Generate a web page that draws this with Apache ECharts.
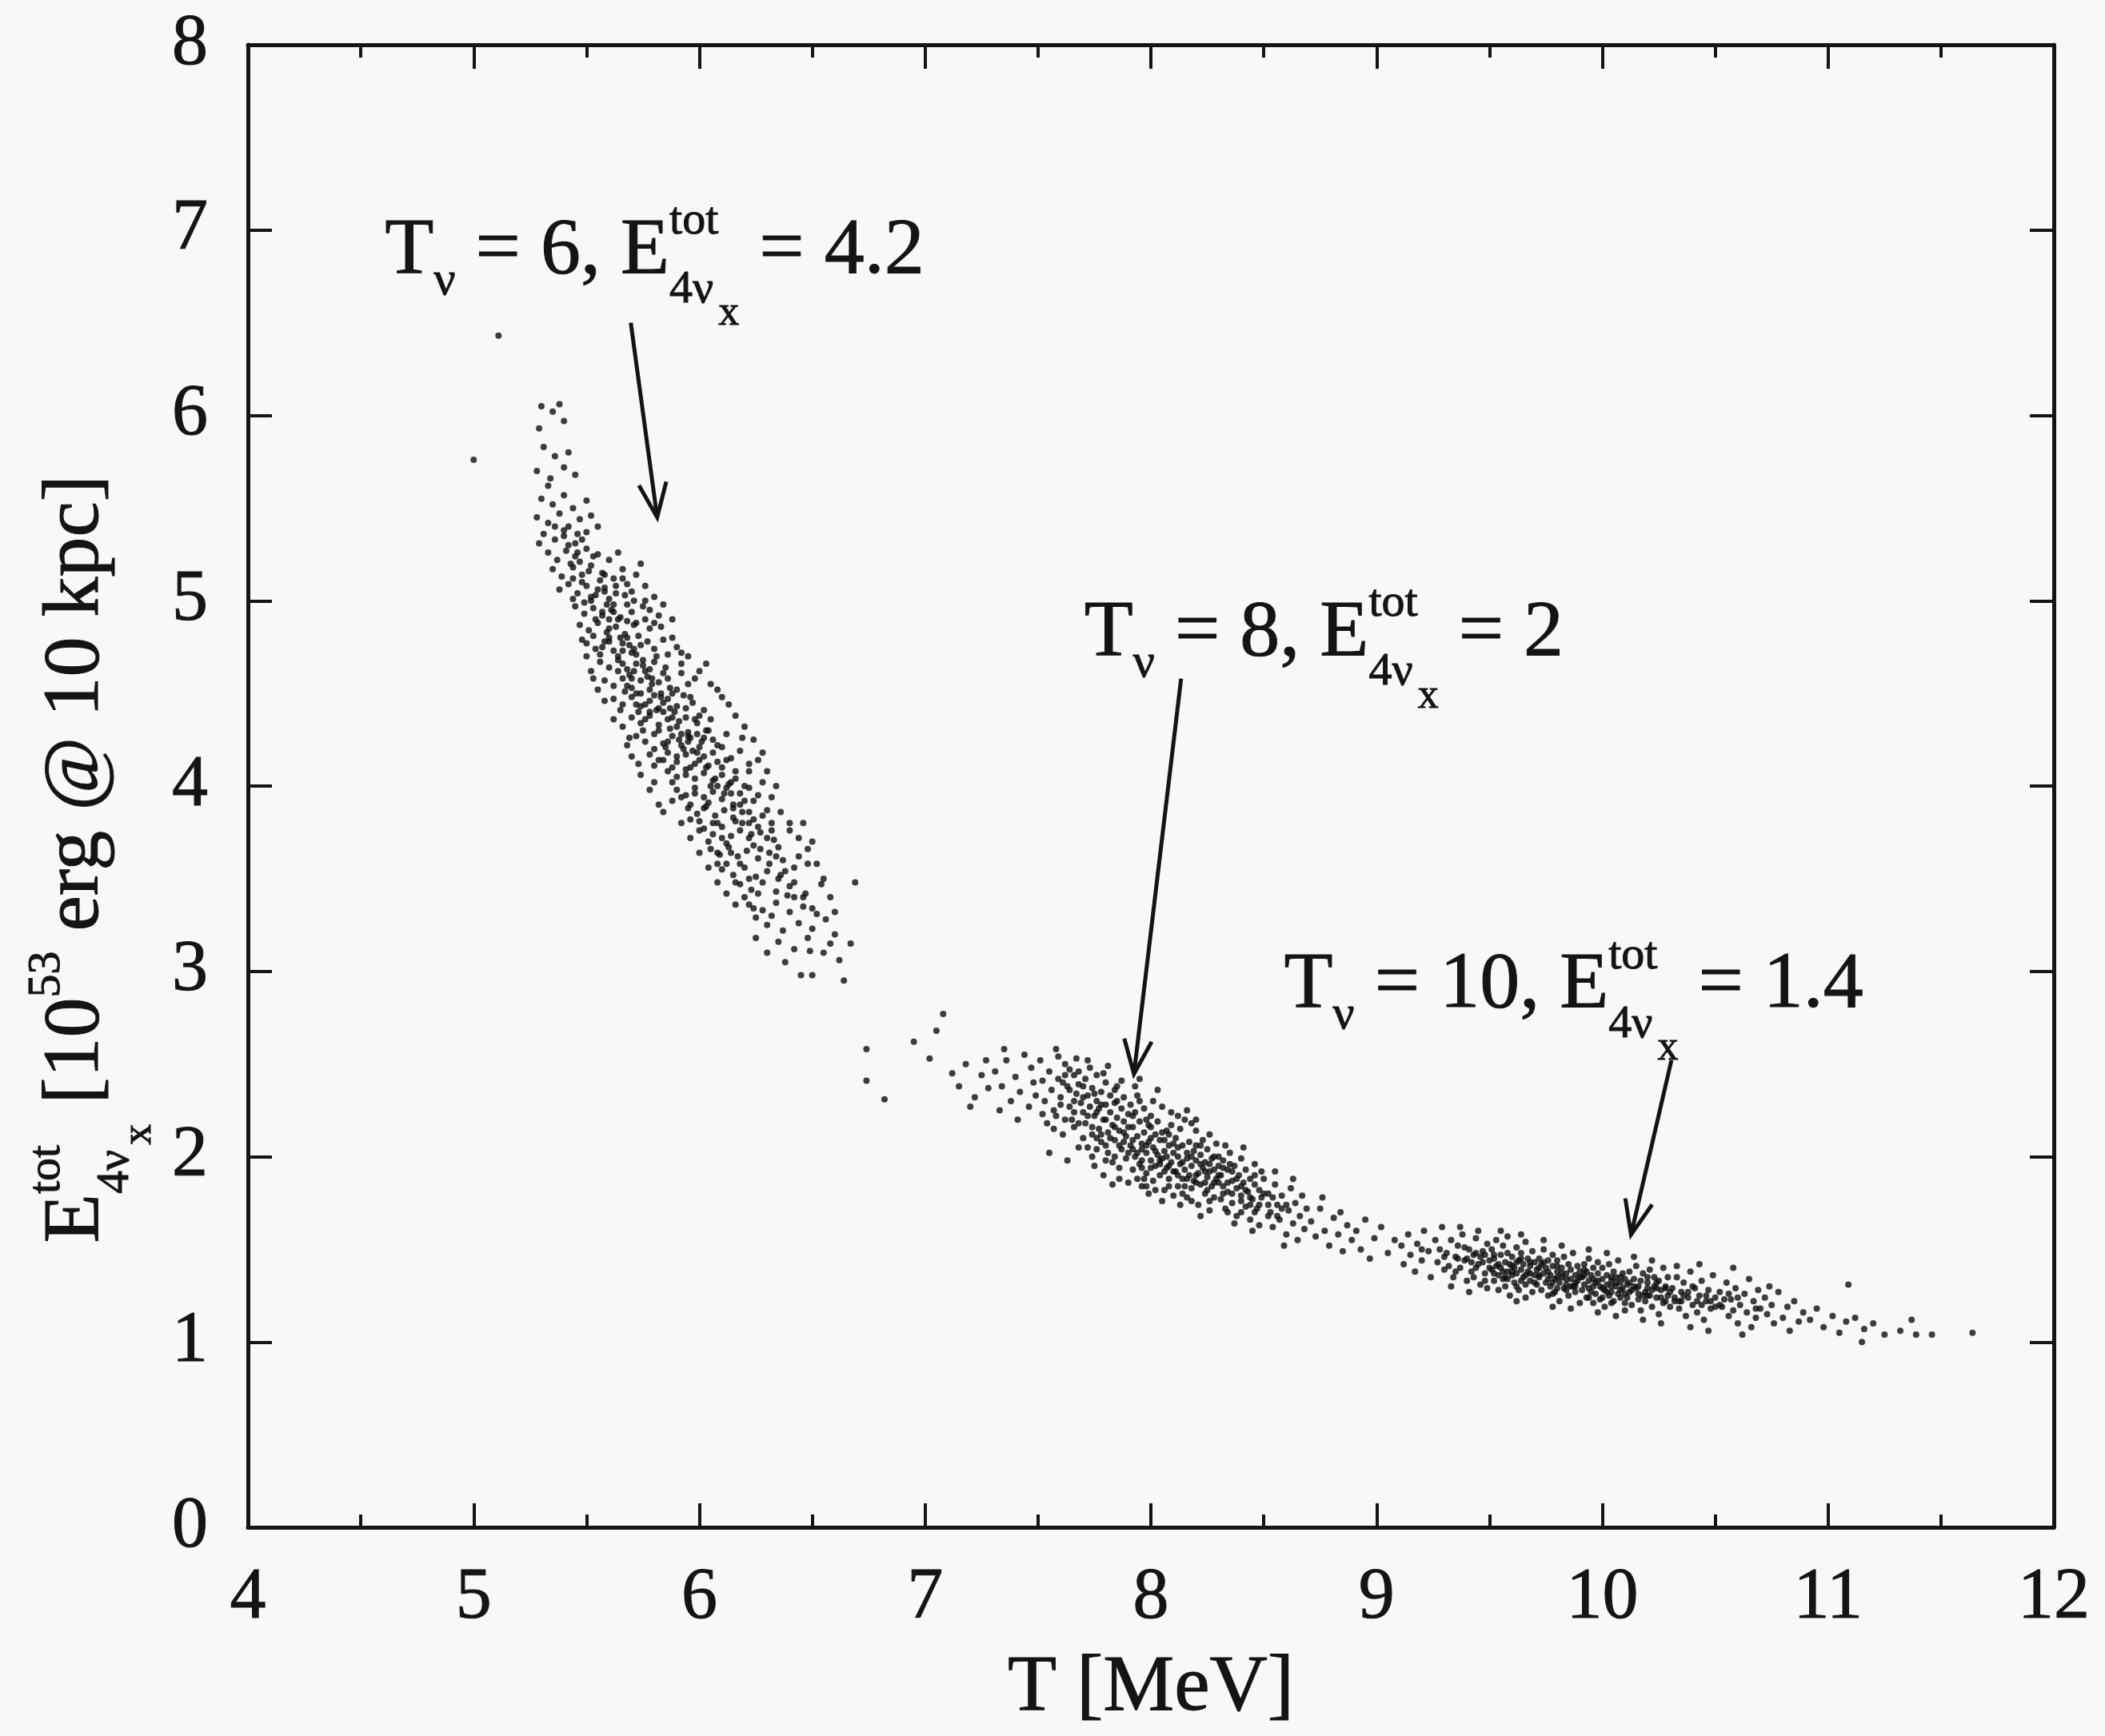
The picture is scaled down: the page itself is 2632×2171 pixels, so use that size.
<!DOCTYPE html>
<html>
<head>
<meta charset="utf-8">
<script src="https://cdn.jsdelivr.net/npm/echarts@6/dist/echarts.min.js"></script>
<style>
  html, body { margin: 0; padding: 0; background: #f8f8f6; }
  #main { width: 2632px; height: 2171px; }
</style>
</head>
<body>
<div id="main"></div>
<script>
// ---- data: [T (MeV), E_tot (10^53 erg)] ----
const cloudT6 = [
  [5.11,6.43],[5.00,5.76],
  [5.30,6.05],[5.35,6.02],[5.38,6.06],[5.29,5.93],[5.40,5.97],
  [5.31,5.83],[5.36,5.78],[5.42,5.80],[5.28,5.70],[5.34,5.66],[5.40,5.72],[5.45,5.68],[5.33,5.62],
  [5.30,5.55],[5.35,5.52],[5.40,5.57],[5.44,5.50],[5.50,5.54],[5.28,5.45],[5.33,5.42],[5.38,5.47],[5.42,5.40],[5.47,5.44],
  [5.52,5.46],[5.31,5.36],[5.36,5.33],[5.40,5.35],[5.45,5.31],[5.50,5.37],[5.55,5.40],[5.29,5.31],[5.42,5.30],[5.48,5.33],
  [5.33,5.26],[5.37,5.22],[5.41,5.27],[5.45,5.24],[5.50,5.28],[5.55,5.25],[5.60,5.22],[5.35,5.17],[5.39,5.13],[5.44,5.18],
  [5.48,5.14],[5.52,5.19],[5.57,5.15],[5.62,5.12],[5.66,5.17],[5.38,5.06],[5.42,5.09],[5.46,5.04],[5.50,5.08],[5.54,5.03],
  [5.58,5.07],[5.63,5.04],[5.68,5.09],[5.44,5.01],[5.52,5.00],[5.60,5.01],[5.47,5.21],[5.56,5.11],[5.64,5.26],[5.70,5.05],
  [5.72,5.14],[5.76,5.08],[5.80,5.02],[5.74,5.20],[5.84,4.98],[5.78,4.95],[5.88,4.90],[5.83,4.86],[5.71,5.00],[5.67,5.03],
  [5.45,4.97],[5.49,4.93],[5.53,4.96],[5.57,4.92],[5.61,4.95],[5.65,4.91],[5.70,4.94],[5.75,4.97],[5.47,4.87],[5.51,4.84],
  [5.55,4.88],[5.59,4.83],[5.63,4.86],[5.67,4.82],[5.71,4.87],[5.78,4.85],[5.50,4.77],[5.54,4.74],[5.58,4.78],[5.62,4.73],
  [5.66,4.77],[5.70,4.72],[5.74,4.76],[5.80,4.74],[5.84,4.79],[5.56,4.71],[5.64,4.70],[5.72,4.71],[5.60,4.90],[5.68,4.89],
  [5.73,4.81],[5.76,4.90],[5.53,4.81],[5.65,4.80],[5.69,4.76],[5.57,4.75],[5.62,4.98],[5.82,4.92],[5.48,4.79],[5.86,4.71],
  [5.60,4.85],[5.66,4.73],[5.75,4.68],[5.58,5.05],[5.62,4.94],
  [5.90,4.75],[5.95,4.70],[6.00,4.62],[6.05,4.55],[6.10,4.48],[5.98,4.58],[6.03,4.66],[6.08,4.52],[6.13,4.44],[5.92,4.61],
  [5.52,4.62],[5.50,4.70],[5.53,4.58],[5.58,4.46],
  [5.56,4.67],[5.60,4.64],[5.64,4.68],[5.68,4.63],[5.72,4.66],[5.76,4.62],[5.80,4.67],[5.85,4.64],[5.92,4.66],[5.58,4.57],
  [5.62,4.54],[5.66,4.58],[5.70,4.53],[5.74,4.57],[5.78,4.52],[5.82,4.56],[5.87,4.53],[5.95,4.55],[5.62,4.47],[5.66,4.44],
  [5.70,4.48],[5.74,4.43],[5.78,4.46],[5.82,4.42],[5.86,4.47],[5.90,4.43],[5.97,4.45],[6.02,4.41],[5.65,4.41],[5.73,4.40],
  [5.81,4.41],[5.89,4.40],[5.69,4.60],[5.77,4.59],[5.84,4.61],[5.72,4.50],[5.80,4.49],[5.88,4.50],[5.67,4.51],[5.93,4.49],
  [5.76,4.44],[5.84,4.45],[5.71,4.62],[5.79,4.55],[5.55,4.52],[5.83,4.50],[5.78,4.63],[5.84,4.40],
  [5.70,4.37],[5.74,4.34],[5.78,4.38],[5.82,4.33],[5.86,4.36],[5.90,4.32],[5.94,4.37],[5.99,4.34],[6.05,4.36],[5.72,4.27],
  [5.76,4.24],[5.80,4.28],[5.84,4.23],[5.88,4.27],[5.92,4.22],[5.96,4.26],[6.00,4.21],[6.06,4.25],[6.12,4.28],[5.78,4.17],
  [5.82,4.14],[5.86,4.18],[5.90,4.13],[5.94,4.17],[5.98,4.12],[6.02,4.16],[6.08,4.13],[6.14,4.15],[5.80,4.11],[5.88,4.10],
  [5.96,4.10],[6.04,4.11],[5.93,4.20],[5.97,4.19],[6.01,4.24],[5.91,4.25],[5.95,4.29],[5.87,4.31],[6.03,4.30],[5.85,4.21],
  [5.99,4.28],[5.75,4.30],[6.10,4.21],[5.68,4.22],[6.18,4.19],[5.88,4.37],[5.95,4.24],[6.00,4.14],[5.92,4.28],
  [6.16,4.38],[6.20,4.32],[6.24,4.25],[6.28,4.18],[6.22,4.12],[6.30,4.08],[6.34,4.00],[6.26,4.14],[6.19,4.26],[6.32,3.94],
  [5.66,4.32],[5.70,4.16],[5.74,4.06],[5.78,3.98],[5.82,3.90],[5.73,4.12],[5.62,4.36],[5.80,4.02],[5.84,3.86],[5.69,4.26],
  [5.86,4.08],[5.90,4.05],[5.94,4.09],[5.98,4.04],[6.02,4.07],[6.06,4.03],[6.10,4.06],[6.16,4.04],[6.22,4.08],[5.90,3.98],
  [5.94,3.95],[5.98,3.99],[6.02,3.94],[6.06,3.97],[6.10,3.93],[6.14,3.96],[6.20,3.92],[6.26,3.95],[5.95,3.88],[5.99,3.85],
  [6.03,3.89],[6.07,3.84],[6.11,3.87],[6.15,3.83],[6.19,3.86],[6.24,3.82],[6.30,3.87],[6.00,3.81],[6.08,3.80],[6.16,3.81],
  [6.05,4.00],[6.12,3.99],[6.18,3.90],[6.04,3.91],[5.88,3.92],[6.13,4.01],[6.28,4.02],[5.96,3.82],[6.22,3.99],[6.32,3.80],
  [6.08,4.00],[6.15,3.90],[6.22,3.80],
  [6.36,3.86],[6.40,3.80],[6.44,3.72],[6.48,3.66],[6.52,3.58],[6.55,3.50],[6.46,3.80],[6.50,3.70],[5.92,3.80],[5.96,3.72],
  [6.00,3.64],[6.04,3.56],[6.08,3.48],[6.12,3.42],[6.16,3.36],[6.58,3.40],[6.60,3.32],
  [6.02,3.77],[6.06,3.74],[6.10,3.78],[6.14,3.73],[6.18,3.76],[6.22,3.72],[6.27,3.75],[6.33,3.71],[6.40,3.76],[6.05,3.66],
  [6.09,3.63],[6.13,3.67],[6.17,3.62],[6.21,3.65],[6.26,3.61],[6.31,3.64],[6.37,3.60],[6.44,3.62],[6.10,3.55],[6.15,3.52],
  [6.20,3.56],[6.25,3.51],[6.30,3.54],[6.36,3.52],[6.42,3.56],[6.12,3.69],[6.24,3.68],[6.35,3.67],[6.48,3.58],[6.08,3.58],
  [6.18,3.47],[6.23,3.44],[6.28,3.48],[6.34,3.43],[6.40,3.46],[6.47,3.42],[6.54,3.47],[6.22,3.36],[6.28,3.33],[6.34,3.37],
  [6.40,3.32],[6.46,3.35],[6.52,3.31],[6.30,3.25],[6.37,3.22],[6.44,3.26],[6.50,3.23],[6.56,3.28],[6.25,3.29],[6.42,3.40],
  [6.35,3.16],[6.42,3.12],[6.48,3.18],[6.55,3.10],[6.60,3.20],[6.25,3.18],[6.30,3.10],[6.38,3.05],[6.58,3.15],[6.62,3.06],
  // dense middle of the band
  [5.40,5.38],[5.46,5.26],[5.51,5.16],[5.55,5.06],[5.59,4.98],[5.64,4.90],[5.68,4.80],[5.71,4.74],[5.75,4.65],[5.79,4.58],
  [5.83,4.48],[5.87,4.42],[5.91,4.35],[5.95,4.27],[5.99,4.18],[6.03,4.10],[6.07,4.04],[6.11,3.96],[6.15,3.88],[6.19,3.80],
  [6.23,3.74],[6.27,3.66],[6.31,3.58],[6.35,3.50],[6.39,3.41],
  [5.36,5.40],[5.43,5.20],[5.48,5.10],[5.52,5.02],[5.57,4.94],[5.60,4.78],[5.66,4.66],[5.70,4.58],[5.74,4.50],[5.78,4.40],
  [5.82,4.30],[5.86,4.24],[5.90,4.16],[5.94,4.06],[5.98,3.96],[6.02,3.88],[6.06,3.80],[6.10,3.72],[6.14,3.64],[6.18,3.58],
  [6.22,3.50],[6.26,3.42],[6.32,3.30],
  [5.46,5.36],[5.53,5.24],[5.58,5.14],[5.63,5.08],[5.68,4.98],[5.72,4.88],[5.77,4.78],[5.81,4.70],[5.86,4.58],[5.90,4.52],
  [5.94,4.42],[5.98,4.36],[6.02,4.26],[6.06,4.18],[6.10,4.10],[6.14,4.02],[6.18,3.96],[6.22,3.86],[6.26,3.78],[6.30,3.72],
  [6.34,3.62],[6.38,3.54],[6.42,3.48],[6.46,3.40],[6.50,3.34],
  [5.44,5.12],[5.49,4.99],[5.54,4.90],[5.60,4.80],[5.64,4.62],[5.68,4.54],[5.72,4.44],[5.76,4.36],[5.80,4.20],[5.84,4.14],
  [5.88,4.02],[5.92,3.94],[5.96,3.90],[6.00,3.76],[6.04,3.70],[6.08,3.64],[6.12,3.58],[6.16,3.48],[6.20,3.40],[6.24,3.34],
  [5.96,4.48],[6.00,4.38],[6.04,4.30],[6.08,4.22],[6.12,4.14],[6.16,4.08],[6.20,4.00],[6.24,3.92],[6.28,3.84],[6.32,3.76],
  [5.92,4.72],[5.88,4.80],[5.80,4.88],[5.76,5.00],[5.66,5.12]
];

const cloudT8 = [
  [7.12,2.45],[7.15,2.38],[7.18,2.50],[7.22,2.32],[7.25,2.44],[7.28,2.37],[7.20,2.27],[7.27,2.52],
  [7.31,2.46],[7.34,2.38],[7.36,2.52],[7.38,2.30],[7.40,2.43],[7.42,2.35],[7.44,2.55],[7.46,2.27],[7.48,2.40],[7.33,2.25],
  [7.41,2.20],[7.47,2.48],[7.35,2.58],[7.49,2.33],
  [7.51,2.52],[7.52,2.41],[7.53,2.30],[7.54,2.18],[7.55,2.46],[7.56,2.36],[7.57,2.25],[7.58,2.58],[7.59,2.42],[7.60,2.32],
  [7.61,2.12],[7.62,2.50],[7.63,2.38],[7.64,2.27],[7.65,2.20],[7.66,2.44],[7.67,2.34],[7.68,2.05],[7.69,2.29],[7.52,2.23],
  [7.57,2.15],[7.61,2.40],[7.64,2.47],[7.66,2.16],[7.68,2.39],[7.55,2.02],[7.63,1.98],[7.59,2.54],[7.67,2.53],[7.70,2.24],
  [7.70,2.10],[7.66,2.30],[7.58,2.22],
  [7.71,2.42],[7.71,2.18],[7.72,2.33],[7.72,2.05],[7.73,2.27],[7.73,2.48],[7.74,2.12],[7.74,2.37],[7.75,2.22],[7.75,1.95],
  [7.76,2.30],[7.76,2.44],[7.77,2.15],[7.77,2.26],[7.78,2.08],[7.78,2.35],[7.79,2.20],[7.79,1.90],[7.80,2.28],[7.80,2.40],
  [7.81,2.13],[7.81,2.02],[7.82,2.24],[7.82,2.33],[7.83,2.17],[7.83,1.97],[7.84,2.29],[7.84,2.09],[7.85,2.21],[7.85,2.38],
  [7.86,2.14],[7.86,1.88],[7.87,2.26],[7.87,2.04],[7.88,2.19],[7.88,2.32],[7.89,2.11],[7.89,1.99],[7.90,2.23],[7.74,2.00],
  [7.79,2.45],[7.83,1.85],[7.87,2.41],[7.72,2.52],[7.81,2.49],[7.76,2.10],[7.80,1.98],[7.84,2.00],[7.88,2.08],[7.90,1.86],
  [7.91,2.28],[7.91,2.06],[7.92,2.16],[7.92,1.93],[7.93,2.24],[7.93,2.00],[7.94,2.11],[7.94,2.33],[7.95,1.96],[7.95,2.19],
  [7.96,2.07],[7.96,1.84],[7.97,2.13],[7.97,2.26],[7.98,2.02],[7.98,1.91],[7.99,2.17],[7.99,2.08],[8.00,1.98],[8.00,2.22],
  [8.01,2.05],[8.01,1.87],[8.02,2.12],[8.02,1.95],[8.03,2.19],[8.03,2.01],[8.04,1.90],[8.04,2.09],[8.05,1.99],[8.05,2.27],
  [8.06,2.03],[8.06,1.82],[8.07,2.14],[8.07,1.94],[8.08,2.06],[8.08,1.88],[8.09,2.17],[8.09,1.97],[8.10,2.02],[8.10,1.79],
  [7.93,2.38],[7.97,1.88],[8.01,2.30],[8.05,1.76],[8.09,2.24],[7.99,1.80],[7.95,2.42],[8.03,2.36],[8.07,2.00],[7.96,2.04],
  [7.92,2.04],[7.96,1.98],[8.00,2.10],[8.04,1.96],[8.08,2.12],[7.98,2.20],[8.06,1.92],
  [8.11,2.10],[8.11,1.92],[8.12,2.00],[8.12,1.84],[8.13,2.15],[8.13,1.96],[8.14,1.88],[8.14,2.06],[8.15,1.93],[8.15,2.20],
  [8.16,1.99],[8.16,1.78],[8.17,2.08],[8.17,1.90],[8.18,1.95],[8.18,1.83],[8.19,2.03],[8.19,1.87],[8.20,1.98],[8.20,2.14],
  [8.21,1.91],[8.21,1.74],[8.22,2.01],[8.22,1.85],[8.23,1.94],[8.23,2.09],[8.24,1.80],[8.24,1.97],[8.25,1.89],[8.25,2.04],
  [8.26,1.92],[8.26,1.71],[8.27,1.99],[8.27,1.84],[8.28,1.93],[8.28,1.78],[8.29,1.88],[8.29,2.07],[8.30,1.86],[8.30,1.95],
  [8.13,1.74],[8.18,2.18],[8.22,1.68],[8.26,2.12],[8.16,2.25],[8.12,1.90],[8.16,2.02],[8.20,1.86],[8.24,1.92],[8.28,2.00],
  [8.14,1.80],[8.22,2.06],
  [8.31,1.90],[8.31,1.77],[8.32,1.98],[8.32,1.84],[8.33,1.72],[8.34,1.93],[8.34,1.81],[8.35,2.02],[8.36,1.87],[8.36,1.75],
  [8.37,1.95],[8.38,1.83],[8.38,1.68],[8.39,1.90],[8.40,1.79],[8.40,1.99],[8.41,1.86],[8.42,1.73],[8.42,1.93],[8.43,1.81],
  [8.44,1.88],[8.44,1.66],[8.45,1.77],[8.46,1.85],[8.46,1.96],[8.47,1.72],[8.48,1.82],[8.48,1.63],[8.49,1.78],[8.50,1.88],
  [8.33,2.06],[8.37,1.64],[8.41,2.05],[8.45,1.60],[8.49,1.92],[8.32,1.80],[8.36,1.92],[8.40,1.84],[8.44,1.74],[8.46,1.90],
  [8.34,1.70],
  [8.52,1.80],[8.53,1.70],[8.54,1.62],[8.55,1.85],[8.56,1.74],[8.57,1.66],[8.58,1.79],[8.60,1.58],[8.61,1.71],[8.62,1.83],
  [8.63,1.64],[8.64,1.75],[8.65,1.55],[8.66,1.68],[8.67,1.79],[8.68,1.61],[8.69,1.72],[8.55,1.92],[8.63,1.88],[8.59,1.52],
  [8.52,1.68],[8.58,1.72],
  [8.71,1.65],[8.73,1.57],[8.75,1.72],[8.77,1.60],[8.79,1.52],[8.81,1.67],[8.83,1.58],[8.85,1.49],[8.87,1.63],[8.89,1.55],
  [8.76,1.78],[8.84,1.70],
  [8.91,1.60],[8.93,1.50],[8.95,1.66],[8.97,1.45],[8.99,1.56],[9.02,1.62],[9.05,1.48],[9.08,1.55],
  // dense middle of the band
  [7.60,2.28],[7.62,2.20],[7.64,2.36],[7.66,2.24],[7.68,2.18],[7.70,2.32],[7.72,2.22],[7.74,2.16],[7.76,2.24],[7.78,2.12],
  [7.80,2.20],[7.82,2.10],[7.84,2.16],[7.86,2.06],[7.88,2.13],[7.90,2.02],[7.92,2.09],[7.94,2.02],[7.96,1.94],[7.98,2.06],
  [8.00,1.94],[8.02,2.03],[8.04,1.98],[8.06,2.09],[8.08,1.95],[8.10,1.92],[8.12,2.05],[8.14,1.97],[8.16,1.88],[8.18,2.00],
  [8.20,1.90],[8.22,1.96],[8.24,1.86],[8.26,1.96],[8.28,1.86],[8.30,1.90],[8.32,1.94],[8.34,1.86],[8.36,1.80],[8.38,1.88],
  [8.40,1.76],[8.42,1.82],[8.44,1.78],[8.46,1.70],[8.48,1.74],[8.50,1.80],[8.52,1.74],[8.54,1.78],[8.56,1.68],[8.60,1.74],
  [7.70,2.38],[7.75,2.34],[7.80,2.06],[7.85,2.30],[7.90,2.16],[7.95,2.30],[8.00,2.16],[8.05,2.13],[8.10,2.07],[8.15,1.84],
  [8.20,2.06],[8.25,1.82],[8.30,2.00],[8.35,1.96],[8.40,1.70],[7.62,2.44],[7.68,2.46],[7.78,2.28],[7.84,2.36],[7.92,2.22],
  [7.98,1.84],[8.02,1.82],[8.08,1.84],[8.18,1.76],[8.26,1.76],[7.86,1.94],[7.94,1.88],[8.12,2.22],[8.20,2.20],[7.76,2.04]
];

const cloudT10 = [
  [9.11,1.52],[9.12,1.42],[9.14,1.58],[9.15,1.47],[9.17,1.38],[9.18,1.53],[9.20,1.44],[9.21,1.60],[9.23,1.49],[9.24,1.35],
  [9.26,1.55],[9.27,1.43],[9.28,1.50],[9.29,1.62],[9.30,1.39],[9.20,1.50],[9.30,1.46],
  [9.31,1.48],[9.32,1.41],[9.33,1.55],[9.34,1.35],[9.35,1.46],[9.36,1.52],[9.37,1.40],[9.38,1.58],[9.39,1.44],[9.40,1.33],
  [9.41,1.50],[9.42,1.38],[9.43,1.47],[9.44,1.56],[9.45,1.42],[9.46,1.31],[9.47,1.49],[9.48,1.37],[9.49,1.53],[9.50,1.44],
  [9.33,1.30],[9.37,1.62],[9.41,1.27],[9.45,1.60],[9.49,1.29],[9.35,1.38],[9.39,1.51],[9.43,1.35],[9.47,1.43],[9.36,1.45],
  [9.40,1.45],[9.44,1.40],[9.48,1.47],
  [9.51,1.39],[9.51,1.50],[9.52,1.33],[9.52,1.45],[9.53,1.41],[9.53,1.55],[9.54,1.36],[9.54,1.28],[9.55,1.47],[9.55,1.40],
  [9.56,1.34],[9.56,1.52],[9.57,1.43],[9.57,1.30],[9.58,1.38],[9.58,1.48],[9.59,1.42],[9.59,1.25],[9.60,1.36],[9.60,1.46],
  [9.61,1.40],[9.61,1.32],[9.62,1.51],[9.62,1.37],[9.63,1.44],[9.63,1.28],[9.64,1.39],[9.64,1.48],[9.65,1.35],[9.65,1.42],
  [9.66,1.31],[9.66,1.54],[9.67,1.38],[9.67,1.45],[9.68,1.33],[9.68,1.41],[9.69,1.27],[9.69,1.49],[9.70,1.36],[9.70,1.43],
  [9.55,1.60],[9.62,1.22],[9.58,1.57],[9.66,1.24],[9.64,1.58],[9.52,1.37],[9.57,1.35],[9.60,1.41],[9.64,1.33],[9.68,1.37],
  [9.71,1.39],[9.71,1.31],[9.72,1.45],[9.72,1.35],[9.73,1.28],[9.73,1.42],[9.74,1.37],[9.74,1.50],[9.75,1.32],[9.75,1.40],
  [9.76,1.25],[9.76,1.44],[9.77,1.36],[9.77,1.30],[9.78,1.41],[9.78,1.47],[9.79,1.34],[9.79,1.27],[9.80,1.38],[9.80,1.44],
  [9.81,1.32],[9.81,1.22],[9.82,1.40],[9.82,1.35],[9.83,1.29],[9.83,1.46],[9.84,1.37],[9.84,1.31],[9.85,1.42],[9.85,1.25],
  [9.86,1.34],[9.86,1.39],[9.87,1.30],[9.87,1.48],[9.88,1.36],[9.88,1.27],[9.89,1.41],[9.89,1.33],[9.90,1.38],[9.90,1.21],
  [9.74,1.55],[9.78,1.19],[9.82,1.52],[9.86,1.18],[9.80,1.29],[9.72,1.40],[9.76,1.34],[9.80,1.35],[9.84,1.34],[9.88,1.32],
  [9.91,1.35],[9.91,1.28],[9.92,1.42],[9.92,1.31],[9.93,1.24],[9.93,1.38],[9.94,1.33],[9.94,1.45],[9.95,1.27],[9.95,1.36],
  [9.96,1.21],[9.96,1.40],[9.97,1.32],[9.97,1.26],[9.98,1.37],[9.98,1.43],[9.99,1.30],[9.99,1.23],[10.00,1.34],[10.00,1.40],
  [10.01,1.28],[10.01,1.19],[10.02,1.36],[10.02,1.31],[10.03,1.25],[10.03,1.42],[10.04,1.33],[10.04,1.27],[10.05,1.38],[10.05,1.22],
  [10.06,1.30],[10.06,1.35],[10.07,1.26],[10.07,1.44],[10.08,1.32],[10.08,1.24],[10.09,1.37],[10.09,1.29],[10.10,1.34],[10.10,1.17],
  [9.94,1.50],[9.98,1.16],[10.02,1.48],[10.06,1.14],[10.04,1.21],[9.92,1.36],[9.96,1.30],[10.00,1.29],[10.04,1.30],[10.08,1.28],
  [10.11,1.31],[10.11,1.24],[10.12,1.38],[10.13,1.28],[10.13,1.20],[10.14,1.34],[10.15,1.29],[10.15,1.41],[10.16,1.23],[10.17,1.33],
  [10.17,1.17],[10.18,1.37],[10.19,1.27],[10.19,1.22],[10.20,1.32],[10.21,1.39],[10.21,1.25],[10.22,1.19],[10.23,1.30],[10.23,1.35],
  [10.24,1.24],[10.25,1.15],[10.25,1.33],[10.26,1.28],[10.27,1.21],[10.27,1.40],[10.28,1.30],[10.29,1.25],[10.29,1.35],[10.30,1.19],
  [10.14,1.46],[10.18,1.12],[10.22,1.44],[10.26,1.10],[10.20,1.29],[10.12,1.27],[10.16,1.30],[10.20,1.25],[10.24,1.29],[10.28,1.22],
  [10.31,1.29],[10.32,1.22],[10.33,1.35],[10.34,1.18],[10.35,1.27],[10.36,1.32],[10.37,1.14],[10.38,1.24],[10.39,1.38],[10.40,1.20],
  [10.41,1.29],[10.42,1.16],[10.43,1.25],[10.44,1.33],[10.45,1.12],[10.46,1.22],[10.47,1.28],[10.48,1.18],[10.49,1.36],[10.50,1.24],
  [10.33,1.41],[10.39,1.08],[10.43,1.42],[10.47,1.06],[10.35,1.22],[10.36,1.25],[10.44,1.20],
  [10.52,1.27],[10.53,1.19],[10.55,1.32],[10.56,1.14],[10.57,1.23],[10.59,1.29],[10.60,1.10],[10.61,1.20],[10.63,1.26],[10.64,1.16],
  [10.65,1.34],[10.66,1.08],[10.67,1.22],[10.68,1.13],[10.69,1.28],[10.70,1.18],[10.58,1.40],[10.62,1.04],[10.52,1.20],[10.60,1.24],
  [10.68,1.18],
  [10.72,1.24],[10.73,1.15],[10.75,1.20],[10.76,1.10],[10.78,1.27],[10.80,1.13],[10.82,1.19],[10.83,1.06],[10.85,1.22],[10.87,1.11],
  [10.89,1.16],[10.74,1.30],
  [10.92,1.12],[10.95,1.18],[10.98,1.08],[11.02,1.14],[11.05,1.05],[11.08,1.11],[11.09,1.31],[11.12,1.13],[11.15,1.00],[11.16,1.07],
  [11.20,1.10],[11.25,1.04],[11.32,1.06],[11.37,1.12],[11.39,1.04],[11.46,1.04],[11.64,1.05],
  // dense middle of the band
  [9.42,1.43],[9.46,1.46],[9.50,1.40],[9.54,1.42],[9.58,1.34],[9.62,1.43],[9.66,1.36],[9.70,1.32],[9.74,1.43],[9.78,1.32],
  [9.82,1.37],[9.86,1.30],[9.90,1.35],[9.94,1.29],[9.98,1.33],[10.02,1.27],[10.06,1.32],[10.10,1.26],[10.14,1.30],[10.18,1.25],
  [10.22,1.28],[10.26,1.24],[10.30,1.27],[10.34,1.22],[10.38,1.27],[10.42,1.22],[10.46,1.25],[10.50,1.19],[10.54,1.23],[10.58,1.17],
  [9.44,1.48],[9.52,1.47],[9.60,1.38],[9.68,1.43],[9.76,1.38],[9.84,1.28],[9.92,1.39],[10.00,1.24],[10.08,1.35],[10.16,1.26],
  [10.24,1.32],[10.32,1.24],[10.40,1.30],[10.48,1.22],[10.56,1.26],[9.56,1.38],[9.64,1.45],[9.72,1.36],[9.80,1.41],[9.88,1.30],
  [9.96,1.34],[10.04,1.35],[10.12,1.32],[10.20,1.35],[10.28,1.29],[9.48,1.33],[9.62,1.30],[9.78,1.26],[9.94,1.24],[10.10,1.21]
];

// isolated points between the clouds
const strays = [
  [6.69,3.48],[6.67,3.15],[6.49,3.11],[6.45,2.98],[6.50,2.98],[6.64,2.95],
  [7.08,2.77],[6.74,2.58],[6.74,2.41],[6.82,2.31],[7.02,2.53],[6.95,2.62],[7.05,2.68]
];

// annotations: label anchor (left end of baseline) and arrow start -> tip, in data units
const notes = [
  { at: [4.607, 6.739], tv: '6',  e: '4.2', from: [5.696, 6.50], to: [5.813, 5.45] },
  { at: [7.705, 4.675], tv: '8',  e: '2',   from: [8.134, 4.58], to: [7.925, 2.446] },
  { at: [8.590, 2.774], tv: '10', e: '1.4', from: [10.306, 2.52], to: [10.127, 1.579] }
];

const INK = '#141414';
const FONT = 'Liberation Serif';

const chart = echarts.init(document.getElementById('main'));

const axisBase = {
  type: 'value',
  axisLine: { show: true, onZero: false, lineStyle: { color: INK, width: 5 } },
  axisTick: { show: true, inside: true, length: 30, lineStyle: { color: INK, width: 4 } },
  splitLine: { show: false }
};
const tickFont = { fontSize: 90, fontFamily: FONT, color: INK, textBorderColor: INK, textBorderWidth: 1 };
const titleFont = { fontSize: 100, fontFamily: FONT, color: INK, textBorderColor: INK, textBorderWidth: 1 };

const dotSeries = (data) => ({
  type: 'scatter',
  data: data,
  symbol: 'circle',
  symbolSize: 8,
  itemStyle: { color: '#0e0e0e' },
  silent: true
});

chart.setOption({
  backgroundColor: '#f8f8f6',
  animation: false,
  grid: { left: 310, right: 64, top: 56, bottom: 261 },
  xAxis: [
    Object.assign({}, axisBase, {
      position: 'bottom', min: 4, max: 12, interval: 1,
      minorTick: { show: true, splitNumber: 2, length: 16, lineStyle: { color: INK, width: 4 } },
      axisLabel: Object.assign({ margin: 44 }, tickFont),
      name: 'T [MeV]', nameLocation: 'middle', nameGap: 152, nameTextStyle: titleFont
    }),
    Object.assign({}, axisBase, {
      position: 'top', min: 4, max: 12, interval: 1,
      minorTick: { show: true, splitNumber: 2, length: 16, lineStyle: { color: INK, width: 4 } },
      axisLabel: { show: false }
    })
  ],
  yAxis: [
    Object.assign({}, axisBase, {
      position: 'left', min: 0, max: 8, interval: 1,
      axisLabel: Object.assign({ margin: 50 }, tickFont)
    }),
    Object.assign({}, axisBase, {
      position: 'right', min: 0, max: 8, interval: 1,
      axisLabel: { show: false }
    })
  ],
  series: [dotSeries(cloudT6), dotSeries(cloudT8), dotSeries(cloudT10), dotSeries(strays)]
});

// ---- text with sub/superscripts, laid out piece by piece ----
const ctx = document.createElement('canvas').getContext('2d');
function textWidth(t, s) {
  ctx.font = s + 'px "' + FONT + '"';
  return ctx.measureText(t).width;
}
// seg: { t, s (size), dy (baseline shift, + is down), stack (next piece starts at same x) }
function mathPieces(segs) {
  let x = 0, held = 0;
  const els = [];
  segs.forEach(seg => {
    const w = textWidth(seg.t, seg.s);
    els.push({
      type: 'text', x: x, y: (seg.dy || 0) - 0.34 * seg.s, silent: true,
      style: {
        text: seg.t, fontSize: seg.s, fontFamily: FONT, fill: INK,
        stroke: INK, lineWidth: 1, align: 'left', verticalAlign: 'middle'
      }
    });
    if (seg.stack) { held = w; } else { x += Math.max(w, held); held = 0; }
  });
  return { els: els, width: x };
}

const M = 100, S = 60, SS = 52;
function energySymbol() {
  return [
    { t: 'E', s: M },
    { t: 'tot', s: S - 2, dy: -52, stack: true },
    { t: '4\u03bd', s: S - 2, dy: 34 },
    { t: 'x', s: SS, dy: 62 }
  ];
}

const graphics = [];
notes.forEach(n => {
  const p = chart.convertToPixel({ gridIndex: 0 }, n.at);
  const segs = [
    { t: 'T', s: M },
    { t: '\u03bd', s: S, dy: 24 },
    { t: ' = ' + n.tv + ', ', s: M }
  ].concat(energySymbol(), [{ t: ' = ' + n.e, s: M }]);
  const m = mathPieces(segs);
  graphics.push({ type: 'group', x: p[0], y: p[1], children: m.els, silent: true });

  // arrow: shaft plus open head
  const a = chart.convertToPixel({ gridIndex: 0 }, n.from);
  const b = chart.convertToPixel({ gridIndex: 0 }, n.to);
  const dx = a[0] - b[0], dy = a[1] - b[1];
  const len = Math.hypot(dx, dy);
  const ux = dx / len, uy = dy / len;
  const ang = 22 * Math.PI / 180, arm = 46;
  const rot = (s) => [b[0] + arm * (ux * Math.cos(s) - uy * Math.sin(s)), b[1] + arm * (ux * Math.sin(s) + uy * Math.cos(s))];
  graphics.push({
    type: 'line', silent: true,
    shape: { x1: a[0], y1: a[1], x2: b[0], y2: b[1] },
    style: { stroke: INK, lineWidth: 5 }
  });
  graphics.push({
    type: 'polyline', silent: true,
    shape: { points: [rot(ang), b, rot(-ang)] },
    style: { stroke: INK, lineWidth: 5, fill: null, lineJoin: 'miter' }
  });
});

// rotated y-axis title
const ySegs = energySymbol().concat([
  { t: ' [10', s: M },
  { t: '53', s: S - 2, dy: -52 },
  { t: ' erg @ 10 kpc]', s: M }
]);
const yt = mathPieces(ySegs);
graphics.push({
  type: 'group', x: 130, y: 1074 + yt.width / 2, rotation: Math.PI / 2,
  children: yt.els, silent: true
});

chart.setOption({ graphic: graphics });
</script>
</body>
</html>
